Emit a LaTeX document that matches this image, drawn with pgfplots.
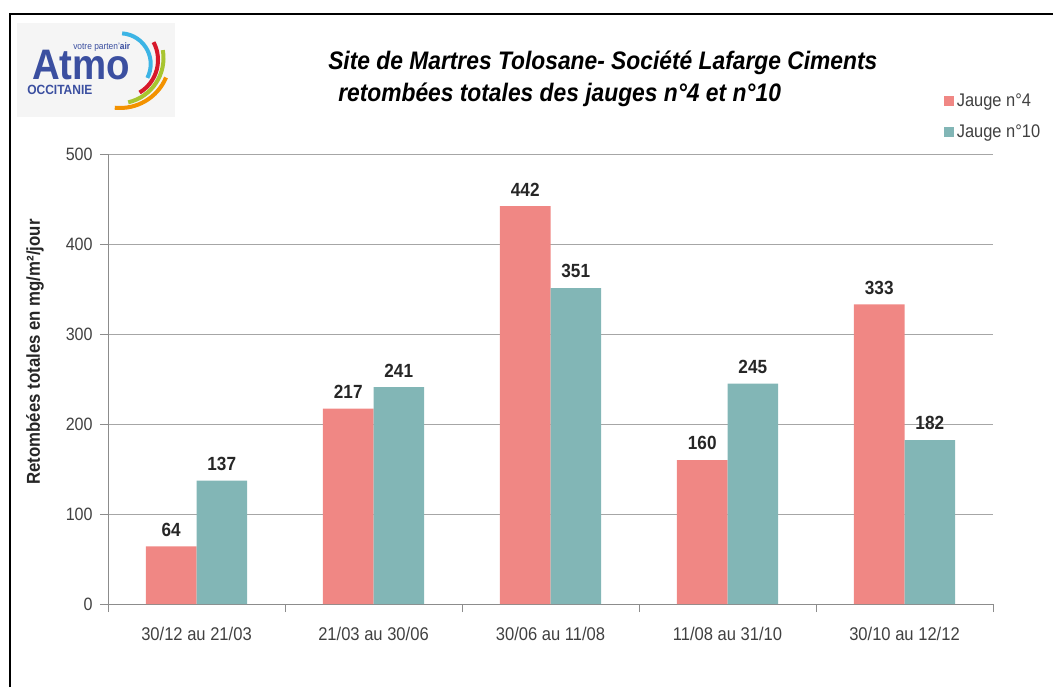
\documentclass[border=0pt]{standalone}
\usepackage{pgfplots}
\pgfplotsset{compat=1.18}
\usepackage{fontspec}
\setmainfont{Liberation Sans}[FakeStretch=0.9]
\definecolor{rose}{HTML}{F08784}
\definecolor{vert}{HTML}{82B6B6}
\definecolor{axegris}{HTML}{8C8C8C}
\definecolor{grille}{HTML}{A6A6A6}
\definecolor{texte}{HTML}{404040}
\definecolor{atmobleu}{HTML}{3B4FA0}
\definecolor{arccyan}{HTML}{3CB4E5}
\definecolor{arcrouge}{HTML}{D7182A}
\definecolor{arcvert}{HTML}{A8C530}
\definecolor{arcorange}{HTML}{F39200}
\begin{document}
\begin{tikzpicture}[x=0.75pt,y=0.75pt]
\path[use as bounding box] (0,0) rectangle (1053,687);
% cadre
\draw[line width=1.5pt] (10,0) -- (10,673) -- (1053,673);
% logo
\fill[black!4] (17,570) rectangle (175,664);
\node[anchor=base west, inner sep=0pt, text=atmobleu, font=\fontsize{32}{32}\selectfont\bfseries] at (32,607) {Atmo};
\node[anchor=base west, inner sep=0pt, text=atmobleu, font=\fontsize{10}{10}\selectfont\bfseries] at (27,592) {OCCITANIE};
\node[anchor=base west, inner sep=0pt, text=atmobleu, font=\fontsize{7}{7}\selectfont] at (73,637) {votre parten'\textbf{air}};
\draw[line width=3pt, arccyan] (120,623) ++(86:30.7) arc[start angle=86, end angle=-27, radius=30.7];
\draw[line width=3pt, arcrouge] (120,627) ++(28:38) arc[start angle=28, end angle=-59, radius=38];
\draw[line width=3pt, arcvert] (118,629) ++(10:45.5) arc[start angle=10, end angle=-77, radius=45.5];
\draw[line width=3pt, arcorange] (120,629) ++(-23:50) arc[start angle=-23, end angle=-96, radius=50];
% titre
\node[anchor=base west, inner sep=0pt, font=\fontsize{19}{19}\selectfont\bfseries\itshape] at (328,617) {Site de Martres Tolosane- Société Lafarge Ciments};
\node[anchor=base west, inner sep=0pt, font=\fontsize{19}{19}\selectfont\bfseries\itshape] at (338,585) {retombées totales des jauges n°4 et n°10};
% titre axe y
\node[rotate=90, inner sep=0pt, text=black!85, font=\fontsize{14}{14}\selectfont\bfseries] at (35,335) {Retombées totales en mg/m²/jour};
\begin{axis}[
    at={(81pt,62.25pt)}, anchor=south west,
    scale only axis, width=663.75pt, height=337.5pt,
    ybar=0pt, bar width=37.9pt,
    xmin=-0.5, xmax=4.5, ymin=0, ymax=500,
    xtick={0,1,2,3,4},
    xticklabels={30/12 au 21/03, 21/03 au 30/06, 30/06 au 11/08, 11/08 au 31/10, 30/10 au 12/12},
    minor xtick={-0.5,0.5,1.5,2.5,3.5,4.5},
    ytick={0,100,...,500},
    axis x line*=bottom, axis y line*=left,
    axis line style={axegris, line width=0.75pt, -},
    ymajorgrids, major grid style={grille, line width=0.75pt},
    tick align=outside,
    major x tick style={draw=none},
    minor x tick style={axegris, line width=0.75pt},
    minor tick length=6pt,
    major y tick style={axegris, line width=0.75pt},
    major tick length=6pt,
    tick label style={text=texte},
    yticklabel style={font=\fontsize{13.4}{13.4}\selectfont, xshift=-2pt},
    xticklabel style={font=\fontsize{13.8}{13.8}\selectfont, yshift=-8pt},
    /pgf/number format/assume math mode=true,
    nodes near coords,
    every node near coord/.append style={font=\fontsize{14.3}{14.3}\selectfont\bfseries, text=black!85, yshift=4pt},
    legend style={at={(0.94,1.147)}, anchor=north west, draw=none, fill=none,
        font=\fontsize{13.7}{13.7}\selectfont, text=texte, row sep=8.5pt, cells={anchor=west}},
    legend image code/.code={\fill[#1] (0pt,-3.75pt) rectangle (7.5pt,3.75pt);},
]
\addplot[fill=rose, draw=none] coordinates {(0,64) (1,217) (2,442) (3,160) (4,333)};
\addplot[fill=vert, draw=none] coordinates {(0,137) (1,241) (2,351) (3,245) (4,182)};
\legend{Jauge n°4, Jauge n°10}
\end{axis}
\end{tikzpicture}
\end{document}
